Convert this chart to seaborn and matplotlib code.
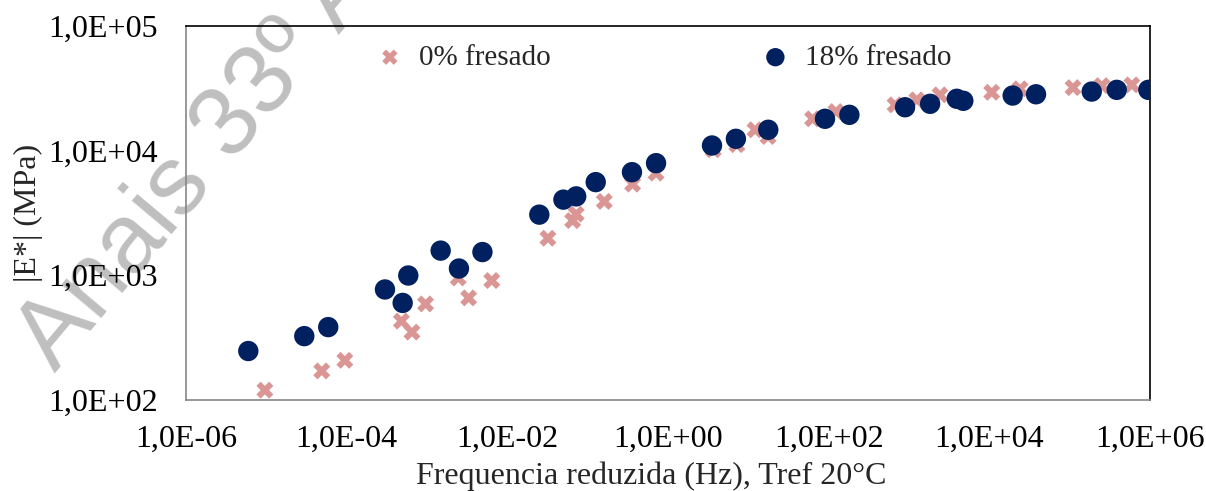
import pandas as pd
import matplotlib
matplotlib.use('Agg')
import matplotlib.pyplot as plt
from matplotlib.ticker import FuncFormatter, LogLocator, NullLocator
import seaborn as sns

# 0% fresado (x marks)
freq_0 = [9.6e-6, 4.9e-5, 9.5e-5, 4.8e-4, 6.5e-4, 9.6e-4, 2.45e-3, 3.3e-3, 6.4e-3,
          3.2e-2, 6.5e-2, 7.2e-2, 0.161, 0.363, 0.71, 3.66, 7.2, 12.1, 17.6,
          63, 123, 670, 1250, 2430, 10700, 24100, 110000, 251000, 593000]
mod_0 = [120, 171, 208, 429, 350, 589, 951, 658, 907,
         1980, 2742, 3090, 3908, 5370, 6580, 10140, 11120, 14650, 12940,
         17940, 20500, 23200, 25450, 27900, 29250, 31200, 31900, 33100, 33550]

# 18% fresado (circles)
freq_18 = [5.97e-6, 2.97e-5, 5.9e-5, 3.0e-4, 4.98e-4, 5.85e-4, 1.48e-3, 2.5e-3, 4.9e-3,
           2.5e-2, 4.99e-2, 7.2e-2, 0.126, 0.356, 0.71, 3.53, 7.0, 17.7,
           90, 181, 893, 1830, 3930, 4740, 19500, 38100, 188000, 385000, 953000]
mod_18 = [247, 325, 384, 769, 600, 995, 1575, 1132, 1534,
          3060, 4036, 4285, 5575, 6700, 7910, 10960, 12400, 14650,
          17940, 19300, 22200, 23650, 25950, 25000, 27550, 28200, 29650, 30600, 30600]

labels = ['0% fresado', '18% fresado']

df0 = pd.DataFrame({'f': freq_0, 'E': mod_0})
df18 = pd.DataFrame({'f': freq_18, 'E': mod_18})

sns.set_style('white')
plt.rcParams['font.family'] = ['Liberation Serif', 'DejaVu Serif']

fig = plt.figure(figsize=(12.06, 4.91), dpi=100)
ax = fig.add_axes([0.1542, 0.1853, 0.7994, 0.7624])
ax.patch.set_alpha(0)

# watermark behind the axes (runs off the top edge like in the original)
fig.text(0.0456, 0.24, 'Anais 33º ANPET', fontsize=71, color='#bfbfbf',
         family=['Liberation Sans', 'DejaVu Sans'], rotation=50,
         rotation_mode='anchor', ha='left', va='baseline', zorder=-1)

sns.scatterplot(data=df0, x='f', y='E', marker='X', s=150, color='#da9694',
                edgecolor='none', label=labels[0], ax=ax, zorder=3)
sns.scatterplot(data=df18, x='f', y='E', marker='o', s=215, color='#002060',
                edgecolor='none', label=labels[1], ax=ax, zorder=4)

ax.set_xscale('log')
ax.set_yscale('log')
ax.set_xlim(1e-6, 1e6)
ax.set_ylim(1e2, 1e5)
ax.xaxis.set_major_locator(LogLocator(base=100))
ax.yaxis.set_major_locator(LogLocator(base=10))
ax.xaxis.set_minor_locator(NullLocator())
ax.yaxis.set_minor_locator(NullLocator())
fmt = FuncFormatter(lambda v, p: f'{v:.1E}'.replace('.', ','))
ax.xaxis.set_major_formatter(fmt)
ax.yaxis.set_major_formatter(fmt)
ax.tick_params(length=0, labelsize=23, colors='black')
ax.tick_params(axis='x', pad=18)
ax.tick_params(axis='y', pad=20)

ax.set_xlabel('Frequencia reduzida (Hz), Tref 20°C', fontsize=23)
ax.xaxis.set_label_coords(0.483, -0.163)
ax.set_ylabel('|E*| (MPa)', fontsize=23, labelpad=4)

for side in ['left', 'bottom']:
    ax.spines[side].set_color('#868686')
    ax.spines[side].set_linewidth(1.2)
for side in ['top', 'right']:
    ax.spines[side].set_color('black')
    ax.spines[side].set_linewidth(1.2)

ax.legend(loc='upper center', bbox_to_anchor=(0.495, 1.02), ncol=2, frameon=False,
          fontsize=21, columnspacing=7.2, handletextpad=0.5, handlelength=1.0,
          markerscale=0.9)

fig.savefig('out.png', dpi=100)
